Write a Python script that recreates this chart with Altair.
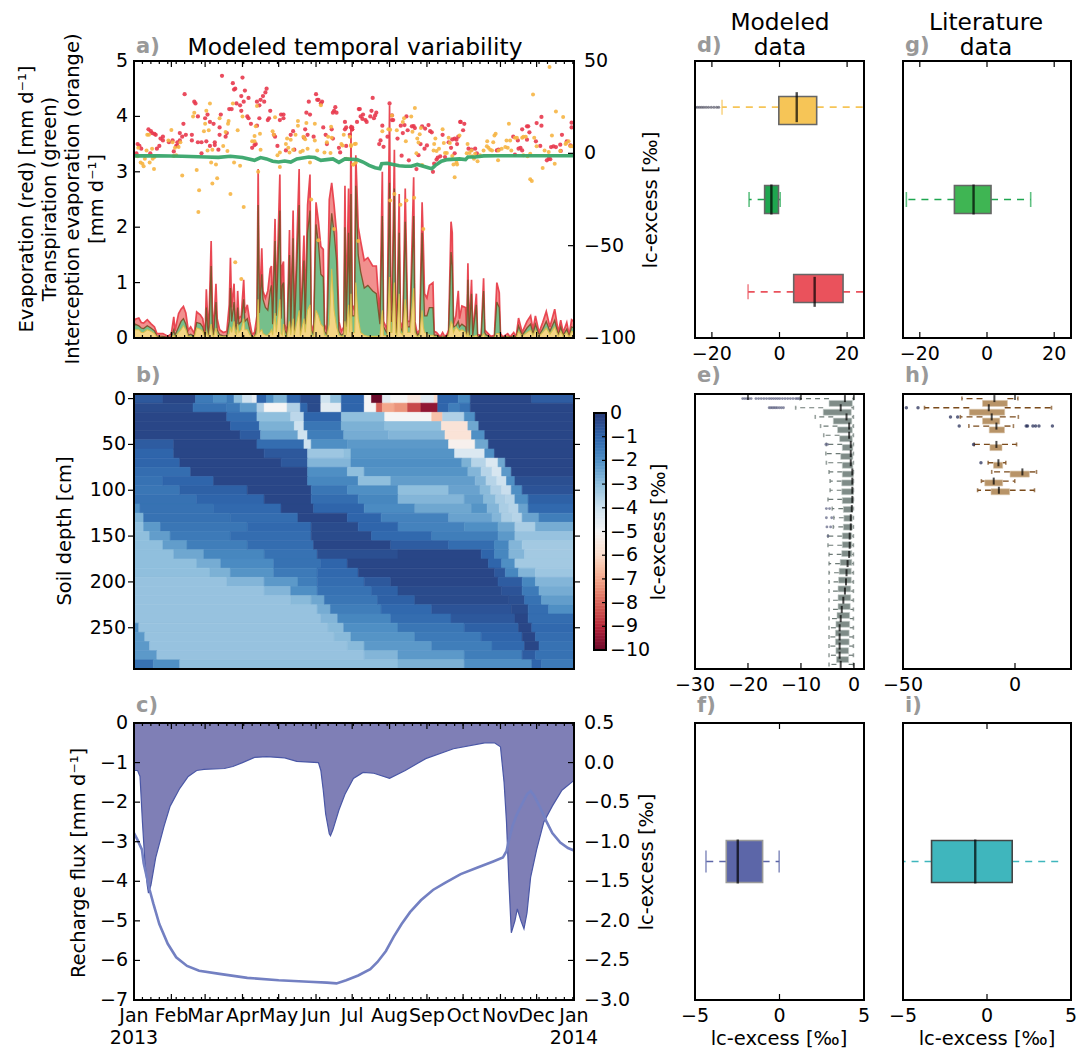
import altair as alt
import pandas as pd

FONT = "DejaVu Sans"
TS = 19

MONTH_DAYS = [0, 31, 59, 90, 120, 151, 181, 212, 243, 273, 304, 334, 365]
MONTH_LABELS = ["Jan", "Feb", "Mar", "Apr", "May", "Jun", "Jul", "Aug", "Sep", "Oct", "Nov", "Dec", "Jan"]
YEAR_DAYS = [0, 365]
YEAR_LABELS = ["2013", "2014"]
WEEK_DAYS = list(range(7, 365, 7))

EV_DAY = [0,1,4,6,8,11,14,17,19,24,28,31,33,34,37,39,41,43,45,47,50,52,55,57,59,60,61,62,64,65,66,68,69,71,74,77,79,80,81,83,84,85,86,87,89,91,92,94,96,98,100,102,103,104,106,107,109,111,113,114,115,117,118,121,122,123,124,125,127,129,130,132,133,137,138,141,142,144,146,147,149,151,153,155,157,158,160,162,164,166,168,170,172,174,175,176,178,179,180,181,183,184,186,188,191,194,198,201,204,206,207,210,212,213,214,216,217,218,220,221,223,225,227,229,232,233,235,237,239,240,241,243,245,248,249,251,254,256,258,260,261,263,264,265,267,269,270,272,275,276,277,278,280,281,284,285,288,290,291,292,296,299,301,303,304,306,310,312,315,317,319,322,326,329,331,333,336,339,342,345,349,352,354,356,359,361,363,365]
EV_RED = [.30,.34,.36,.28,.27,.33,.26,.20,.08,.08,.03,.08,.38,.13,.44,.52,.57,.45,.14,.20,.08,.47,.42,.35,.05,.88,.40,.12,1.75,.50,.12,.98,.35,.15,.10,.12,.60,1.45,.55,.98,.35,.25,.85,.35,.40,1.05,.45,.60,.30,.06,.10,.40,3.05,.50,1.62,.85,.72,.85,1.25,1.30,.35,2.15,.55,2.95,.55,1.30,1.38,.25,.10,1.95,.20,2.30,.20,3.05,.15,1.85,.40,2.40,2.95,.25,.10,2.45,2.10,1.65,1.60,.25,.12,2.50,2.80,2.40,1.90,.30,.12,.20,2.75,.40,2.70,.50,3.85,.60,.50,3.30,2.00,1.75,1.40,1.45,1.30,1.30,.35,3.00,.30,.15,4.20,.60,.50,3.40,.50,.15,2.60,.30,.15,2.70,.30,.30,2.90,.30,.08,.15,2.45,1.70,.80,.72,.95,1.00,.12,.10,.02,.10,.02,.08,.15,2.10,1.90,.25,.40,.85,.35,.58,.55,.10,1.35,.10,1.05,.08,.80,.06,.05,1.08,.15,.12,.03,.05,1.00,.82,.08,.02,.08,.02,.10,.02,.36,.10,.30,.40,.15,.40,.10,.28,.48,.20,.52,.10,.32,.10,.28,.05,.33,.30]
EV_GREEN = [.20,.25,.22,.18,.17,.22,.18,.13,.03,.03,.01,.02,.15,.05,.20,.30,.35,.25,.05,.07,.03,.28,.26,.20,.01,.55,.20,.04,1.30,.20,.05,.65,.15,.06,.04,.04,.30,.90,.30,.65,.25,.15,.55,.25,.30,.70,.30,.35,.15,.02,.03,.20,2.40,.45,1.15,.70,.55,.50,.85,.95,.25,1.75,.40,2.30,.35,.95,1.00,.15,.05,1.50,.12,1.80,.12,2.40,.08,1.40,.25,1.90,2.30,.15,.06,2.05,1.70,1.15,1.10,.12,.06,1.60,2.25,1.90,1.40,.12,.05,.08,2.00,.20,1.90,.35,2.60,.40,.40,2.75,1.50,1.20,.90,.95,.85,.80,.25,2.20,.20,.08,2.80,.30,.30,2.70,.30,.08,1.90,.20,.10,2.10,.20,.20,2.20,.20,.04,.10,1.90,1.00,.40,.40,.55,.55,.05,.05,.01,.03,.01,.03,.10,1.55,1.30,.20,.22,.30,.20,.25,.20,.05,1.05,.05,.80,.04,.60,.03,.02,.85,.10,.06,.01,.02,.65,.55,.03,.01,.03,.01,.04,.01,.22,.05,.18,.25,.08,.25,.05,.16,.30,.12,.32,.05,.20,.05,.16,.02,.20,.18]
EV_ORANGE = [.12,.15,.15,.10,.10,.15,.12,.08,.02,.01,.00,.01,.05,.02,.10,.15,.22,.15,.02,.03,.01,.18,.16,.12,.00,.12,.06,.02,.25,.06,.02,.18,.06,.03,.02,.02,.08,.20,.10,.30,.10,.06,.25,.10,.15,.35,.15,.15,.06,.01,.02,.08,.70,.10,.15,.08,.05,.05,.10,.15,.05,.45,.10,.70,.08,.05,.25,.05,.02,.30,.05,.35,.05,.50,.04,.35,.10,.50,.60,.06,.03,.50,.40,.25,.20,.05,.03,.25,1.25,.50,.20,.05,.03,.03,.30,.05,.60,.10,.80,.08,.10,1.00,.35,.10,.05,.03,.03,.03,.03,.50,.05,.03,1.10,.10,.10,1.00,.10,.04,.80,.10,.05,.70,.10,.10,.90,.10,.02,.05,.50,.20,.10,.08,.05,.05,.02,.02,.00,.02,.00,.02,.05,.30,.25,.10,.20,.15,.12,.15,.10,.02,.10,.02,.05,.02,.05,.01,.01,.08,.03,.02,.00,.01,.08,.08,.02,.00,.02,.00,.02,.00,.12,.03,.10,.14,.05,.14,.03,.10,.18,.07,.20,.03,.12,.03,.10,.01,.12,.10]

RED_DAY = [73,90,82,84,83,92,110,109,107,105,42,50,51,89,95,91,85,88,79,81,89,102,108,104,151,153,152,156,155,145,167,166,165,168,143,146,113,122,124,121,124,111,112,72,61,59,63,53,41,71,66,94,95,97,104,102,12,14,15,17,18,24,22,24,38,40,43,48,48,38,36,35,53,56,60,56,71,76,77,67,67,70,63,3,4.5,6,2,13.5,19,21,29,32,36,33,98,100,101,116,117,119,126,130,132,133,142,144,149,141,157,164,165,159,160,170,171,175,176,175,176,179,181,181,198,186.5,187.3,190,188,189.5,192,193,185,196,197,200,201,199,226,180,181,212,214,215,214,206,204.5,203.4,207,210.3,218.6,221.3,224.4,223,227,230.5,233,232,222,228,234.3,236,237.7,241,243,239,241.5,244.3,245.7,247,248,249,251,252,254,256,258,263,261,264,266,267.5,269,270.6,271,274,273,268,266,277.5,280,283,284.4,301,302.4,319,320.6,322,316,314.6,318.4,322,326,327,328,326,333.4,337,334,338,338,344,345.3,342.5,346,348,350,353.6,354,355,359,362,363,363]
RED_VAL = [42,41,38,35,34.5,34,35,33,31,29,32,28,27,31,30,28,27,26,24,24,23,28,28,26,32,29,29,28,27,28,25,23,22,22,22,21,23,21,21,18,19,18,19,21,21,19,17,20,16,14,16,20,19,16,19,15,13,12,11,10.5,10,9,8,7,11,9,10,10,7,7,6,4,6,6,6.5,0,10,9,11,6,4.5,2,4,5,4,2.5,0,0,2.5,4,6,7,4,1,3,4.5,5,10,9,4,1.6,10,12,2,13,10,9,8.5,14,13,8,10,5,3,0.5,17,14,13,4,10,13,14,30,24,24,21,20,18.6,18,17,17,20,23,20.5,22,19,20,14,13,27,18,18,20.5,15,7,5,3.5,9,8,15,15.3,11,12.5,14.6,13.7,14.8,-1.3,-3.8,-8.5,-1,5,2.5,4.3,14.6,13.4,15.3,12,11.4,-10,-5.6,-3.4,-2.3,-1.6,10,-2,3,6,7.5,8,7.4,9,17,17,16,12.5,5,0,2.5,2,2.5,0,1.6,2,2.5,3,1.6,-0.7,9,7,13,14.6,14.6,11.4,7.4,6.5,4,16.4,19.7,15,-3,-3.2,-3.8,3.4,3.8,3.4,4.7,1.3,10,6.5,4.3,16.6,14]

ORANGE_DAY = [31,63,60,50,49,82,78.5,78,71,59,62,58,86,76,74,77.5,65,61,11,12.4,32,28.5,38.5,37,34,35,33,15,10.4,3.5,3,17,15.5,13,9,7,5.5,8,16.6,52,40,54,65,69,80,64,68,83,88,103,121,90,101,104.5,100,98,100,105,102,117,115,116,119,121,127,126,130,128,129,132,136,136,134,138,140,143,150,140.5,142,150,144,146,152,158,155,163.5,161,164,160,163,172,174,173,176,178,180,182,180,179,183,184,184,182,214,233,230,224,223,218,212.5,211,206,231,225.5,237,238,235,236,234.3,239,248.5,250,249,251,253,256,257,261,262,258,259.5,264,265,267.5,268,270,266,276.7,276,278.3,280.5,282,285,293,298,299,300,309,312,313,310,311,316,317.6,322,323,325,326.5,332,334,340.6,344,346.7,350,356,331,344.7,339,328.7,330,349,302,360.5,362,363.5,358,358.6,353.6,323,328.7,302.4,290,292.7,294,295.5,297,305,308,287,283,280,91,53.4,84,89,147,153,166,186,212.5,216,221,226,232.4,240]
ORANGE_VAL = [12.6,27,23,22,20,27,17.5,16,19,16,12.5,12,12.5,11.5,4,1.3,2,1.6,10,10,6,7,6,3.4,3,-1,-1.4,2.5,1.6,3,-1.6,-2,-3,-5,-3,-5.6,-5,-7,-8.5,-9,-12,-20,-16.4,-13.5,-22,-5,-6,-5,-6.7,-10,-7.4,20,14.6,10.6,9.4,6.5,6.5,2,25.6,19.5,12,10,-1,0.4,8,5,7.4,3,0.4,2,17.5,15,10,0.7,1.4,16.4,16,9,7.6,7,2.5,-5,1.6,0.5,26,14.4,9,8.5,6,0.2,5,10,4.3,-3,-3.2,4.5,-6,4,9,5,5.2,-5,-6,20.5,24.5,20,19,17,12.5,12.8,13,12,11.7,6.5,10.3,13.7,8,5.8,0,-6.3,1.6,8,5,1.3,2.5,13,5.6,8.5,5.6,0.2,0.2,-1.4,-6,-5,-6,9.7,-13,5,0,0.2,-1.6,-3,-4.3,6.5,6,9.7,10.6,7,7,1.6,3,16,8.5,8.5,8.5,9,9,-1.6,8.5,3.8,1.6,0.7,9.7,22.7,19.7,31.8,46.7,-8,-14,-15,-5.6,-3.8,6.5,3.8,3.8,5,5.6,1.3,-1,-0.2,1.6,1.6,3.8,3,2,1.6,2.5,3.4,-1,-0.2,1.6,-29,-31.8,-59,-68,-25,-47,-41,-47.5,-25.5,-22,-27.8,-25.5,-24,-41]

LINE_DAY = [0,20,40,60,70,80,90,100,105,110,115,120,125,130,135,145,150,155,160,165,170,175,180,185,190,195,200,204,205.5,210,215,220,225,230,235,240,247,250,255,260,270,275,277,283,290,300,365]
LINE_VAL = [-1.4,-1.3,-1.6,-2,-2.2,-1.6,-2.3,-3.8,-2.3,-3,-4.3,-4.7,-4.2,-4.7,-3,-2,-2.3,-3.8,-3.4,-3,-4.9,-3,-3.2,-3.4,-4.7,-6.5,-7.8,-8.3,-5.6,-5.4,-6.1,-6.7,-7,-7,-6,-7,-8.3,-6.5,-4.3,-3.4,-3,-3.4,-2,-2,-1.4,-1.3,-1.3]

DEPTHS = list(range(0, 300, 10))
HEAT_RUNS = [
 [[24,-.7],[51,-.3],[66,-1.5],[77,-2],[83,-1.5],[90,-3],[98,-4],[102,-4.6],[110,-1],[116,-2],[127,-2.7],[138,-1],[155,-.4],[163,-4],[172,-3],[191,-1],[197,-5],[206,-10],[213,-4.5],[227,-5],[238,-5.5],[249,-4.5],[252,-6],[269,-1],[279,-1.8],[330,-.3],[365,-.8]],
 [[49,-.4],[77,-1.3],[88,-1.5],[102,-2.2],[108,-3.5],[127,-5],[138,-3.5],[144,-1],[155,-.4],[172,-4.5],[191,-1],[201,-5],[206,-8],[216,-7],[227,-7.3],[238,-8.5],[252,-9.5],[261,-1],[270,-1.6],[279,-1.3],[365,-.3]],
 [[77,-.3],[102,-1.2],[130,-3],[141,-3.7],[172,-1],[208,-3],[247,-5],[256,-6.5],[274,-3.5],[283,-2],[365,-.3]],
 [[80,-.3],[104,-1],[133,-2.7],[141,-4],[172,-1.4],[208,-2.7],[255,-3],[277,-5.7],[286,-2.5],[365,-.3]],
 [[88,-.3],[105,-.8],[136,-2.4],[144,-4],[174,-1.6],[211,-2.6],[258,-2.8],[280,-5.7],[291,-2],[365,-.3]],
 [[33,-.8],[102,-.3],[141,-1.2],[147,-4],[177,-2],[261,-2.2],[283,-5.2],[294,-2.5],[365,-.3]],
 [[33,-1],[108,-.3],[144,-.7],[174,-3.2],[180,-3],[266,-2.1],[291,-4.3],[299,-2],[365,-.3]],
 [[38,-1],[122,-.3],[144,-.7],[180,-2.8],[272,-2],[280,-2.7],[292,-3.6],[302,-4.3],[308,-2.5],[365,-.3]],
 [[47,-1.2],[144,-.3],[177,-2],[191,-3],[277,-2.1],[288,-2.8],[297,-3.6],[305,-4.2],[313,-2.2],[365,-.3]],
 [[24,-1.3],[66,-1],[144,-.3],[186,-1.8],[213,-3],[283,-2.3],[292,-2.8],[301,-3.6],[309,-4],[316,-2],[365,-.5]],
 [[38,-1.4],[94,-.9],[147,-.3],[177,-1.4],[219,-2],[261,-3],[287,-2.4],[296,-2.9],[305,-3.5],[313,-3.9],[322,-2],[365,-.6]],
 [[52,-1.3],[108,-1],[147,-.3],[186,-1.2],[219,-1.8],[274,-2.8],[290,-2.3],[300,-2.9],[308,-3.4],[316,-3.6],[327,-2],[365,-.9]],
 [[5,-2],[66,-1.3],[122,-1.1],[149,-.3],[191,-1],[233,-1.9],[280,-2.5],[293,-2.1],[303,-2.8],[311,-3.4],[319,-3.6],[327,-2.4],[365,-1.1]],
 [[8,-2.7],[80,-1.3],[136,-1.2],[177,-.3],[205,-1],[261,-1.7],[297,-2.4],[305,-2.8],[314,-3.4],[322,-3.6],[336,-2.4],[365,-1.6]],
 [[8,-3],[22,-2.2],[94,-1.4],[147,-1.1],[186,-.4],[219,-1],[274,-1.7],[302,-2],[316,-2.5],[333,-3.4],[365,-2.6]],
 [[13,-3],[30,-2.3],[80,-1.5],[147,-1.2],[197,-.4],[247,-1.1],[302,-1.6],[316,-2.2],[365,-3.1]],
 [[24,-3],[44,-2.3],[94,-1.6],[149,-1.2],[213,-.3],[261,-.8],[299,-1.2],[311,-1.8],[322,-2.8],[365,-3.3]],
 [[33,-3],[58,-2.5],[108,-1.8],[152,-1.3],[219,-.5],[288,-.3],[299,-1],[311,-1.8],[324,-2.8],[365,-3.3]],
 [[52,-3],[72,-2.6],[116,-1.9],[155,-1.3],[177,-1],[294,-.3],[305,-1],[316,-2],[365,-3.3]],
 [[63,-3],[80,-2.7],[116,-2.1],[152,-1.5],[186,-1.1],[299,-.3],[308,-.7],[319,-1.8],[333,-2.8],[365,-3.2]],
 [[77,-3.1],[108,-2.8],[136,-2.2],[152,-1.6],[191,-1.2],[213,-.7],[302,-.3],[322,-.8],[333,-1.8],[365,-2.8]],
 [[108,-3.1],[130,-2.8],[152,-2],[197,-1.3],[219,-.9],[305,-.4],[322,-.6],[336,-1.5],[365,-2.6]],
 [[130,-3.1],[147,-2.9],[158,-2.5],[202,-1.4],[233,-.9],[311,-.4],[324,-.5],[338,-1.3],[365,-2.3]],
 [[152,-3.1],[163,-2.6],[205,-1.6],[247,-1.1],[313,-.6],[327,-.4],[344,-1.2],[365,-2]],
 [[155,-3.1],[169,-2.8],[213,-1.8],[263,-1.2],[316,-.7],[327,-.3],[365,-1.2]],
 [[4,-2],[161,-3.1],[174,-2.9],[219,-2],[274,-1.4],[319,-.9],[330,-.3],[365,-1.1]],
 [[9,-2.2],[166,-3.1],[180,-2.9],[233,-2.1],[288,-1.5],[322,-1],[333,-.3],[365,-1.2]],
 [[13,-2.2],[177,-3.1],[191,-2.9],[247,-2.2],[297,-1.6],[324,-1.1],[336,-.3],[365,-1.3]],
 [[19,-2.2],[191,-3.1],[219,-2.8],[274,-2.2],[322,-1.6],[333,-.8],[365,-1.3]],
 [[16,-1.3],[38,-2],[219,-3],[274,-2.7],[330,-2],[338,-1],[365,-1.5]],
]
HEAT_DOMAIN = [-10,-9,-8,-7,-6,-5,-4,-3,-2,-1,0]
HEAT_COLORS = ["#6b0a2a","#b5263a","#d8645a","#f3a78c","#fbdccb","#f5f5f5","#cfe2ef","#90bfdd","#4f8fc4","#2f65ab","#263a78"]
CB_TICKS = [0,-1,-2,-3,-4,-5,-6,-7,-8,-9,-10]

FLUX_DAY = [0,3,5,7,9,11,12,14,18,25,30,38,45,52,58,75,82,90,100,110,125,135,153,155,157,159,162,163,165,170,175,182,190,199,212,225,242,265,291,299,304,307,309,311,313,316,318,321,323.5,326,329,334,340,347,355,365]
FLUX_VAL = [-1.2,-1.2,-1.35,-2.5,-3.5,-4.1,-4.3,-4.1,-3.4,-2.6,-2.1,-1.65,-1.35,-1.2,-1.17,-1.15,-1.1,-1,-.87,-.85,-.88,-.97,-1,-1.2,-1.7,-2.3,-2.8,-2.85,-2.7,-2.2,-1.8,-1.4,-1.25,-1.27,-1.4,-1.2,-.9,-.65,-.5,-.5,-.6,-1.5,-2.5,-4,-5.3,-5,-4.7,-5,-5.2,-4.8,-3.9,-3.2,-2.5,-2.1,-1.7,-1.45]
LC_DAY = [0,3,6.6,8,13,16,21,28,35,44,54,71,94,120,145,160,168,176,186,196,202,209,215.5,222,229,238,248,258,271,284.5,298,306,309,311,314,317.4,321,326,329,332,337,342,347,353.6,360,365]
LC_VAL = [-.89,-.98,-1.1,-1.27,-1.61,-1.78,-2.04,-2.29,-2.46,-2.57,-2.63,-2.67,-2.72,-2.75,-2.77,-2.78,-2.79,-2.75,-2.69,-2.61,-2.52,-2.38,-2.2,-2.04,-1.89,-1.74,-1.61,-1.52,-1.41,-1.33,-1.25,-1.2,-1.12,-.98,-.8,-.66,-.55,-.4,-.36,-.42,-.57,-.74,-.89,-1.01,-1.08,-1.11]

D_ROW = [1, 2, 3]
D_Q1 = [-0.2, -4.4, 4.2]
D_MED = [5.1, -2.4, 10.4]
D_Q3 = [11, -0.3, 18.8]
D_LO = [-17, -9, -9.3]
D_HI = [25, 0.2, 25]
D_COL = ["#f6c557", "#1ea64f", "#ea525c"]
D_FLIERS = [-24.8,-24.2,-23.6,-23,-22.4,-21.7,-21,-20.2,-19.4,-18.6,-18]
G_Q1, G_MED, G_Q3, G_LO, G_HI = [-9.7], [-4], [1.2], [-24], [13]
F_Q1, F_MED, F_Q3, F_LO, F_HI = [-3.15], [-2.47], [-1], [-4.35], [-0.02]
I_Q1, I_MED, I_Q3, I_LO, I_HI = [-3.3], [-0.7], [1.5], [-5], [4.4]

E_Q1 = [-4.7,-5.8,-3.9,-3.1,-2.7,-2.2,-2.5,-2.2,-2.2,-2.3,-2.3,-2.2,-2,-1.9,-2,-2.2,-2.2,-2.3,-2.6,-2.8,-2.9,-3,-3,-3,-3.2,-3.4,-3.5,-3.5,-3.4,-3.3]
E_MED = [-1.7,-2.5,-1.4,-.9,-.9,-.6,-.6,-.6,-.3,-.3,-.3,-.3,-.4,-.6,-.6,-.8,-.8,-.9,-1.2,-1.4,-1.5,-1.7,-2,-2.3,-2.5,-2.7,-2.7,-2.7,-2.7,-2.5]
E_Q3 = [-.3,-.5,-.4,-.3,-.3,-.2,-.2,-.2,-.1,-.1,-.1,-.1,-.2,-.3,-.3,-.4,-.4,-.4,-.4,-.5,-.5,-.6,-.6,-.7,-.8,-.8,-.9,-.9,-1,-1]
E_LO = [-10.2,-11,-7.3,-6.3,-5.7,-5.2,-5.3,-5.2,-4.7,-4.5,-4.5,-4.9,-4.1,-3.8,-3.9,-4.9,-4.9,-4.7,-4.7,-4.7,-4.7,-4.7,-4.7,-4.7,-4.7,-4.7,-4.7,-4.7,-4.7,-4.7]
E_HI = [-.1]*30
E_FL_ROW = [0]*24 + [1]*9 + [5,5,12,12,13,13,14,14,15]
E_FL_VAL = [-21,-20.6,-20.2,-19.8,-19.4,-18.5,-18,-17.5,-17,-16.5,-16,-15.6,-15.2,-14.8,-14.4,-14,-13.5,-13,-12.5,-12,-11.5,-11,-10.7,-10.4,-16,-15.7,-15.4,-15.1,-14.8,-14.5,-14.1,-13.7,-13.3,-5.3,-5,-5.2,-4.6,-5.2,-4.2,-5.1,-4.4,-4.9]

H_ROW = [0,1,2,3,5,7,8,9,10]
H_Q1 = [-14.5,-20.4,-14.5,-11.5,-11.2,-9.6,-2.2,-13.5,-10.7]
H_MED = [-9.2,-11.7,-10.4,-8.3,-8.3,-7.4,3.3,-9.5,-7.2]
H_Q3 = [-3.4,-4.6,-6.8,-4.7,-5.8,-5.5,6.4,-5.5,-2.4]
H_LO = [-23.7,-40.4,-24.4,-20.6,-18.2,-12,-10.4,-15,-16.7]
H_HI = [1.3,16.3,1.5,-.7,.7,-4.1,9.6,-.1,8.7]
H_FL_ROW = [1,1,2,2,3,3,3,3,3,3,3,5,7]
H_FL_VAL = [-48.5,-43.3,-28.8,-25.6,-24.9,5,5.6,8,9.2,10.7,16.7,-18.5,-15.2]

# ---- layout: page pixels of the panels; M is the page margin
M = 8
XA0, XA1 = 134 - M, 574 - M
XB0, XB1 = 695 - M, 864 - M
XC0, XC1 = 903 - M, 1071 - M
Y10, Y11 = 61 - M, 338 - M
Y20, Y21 = 394 - M, 669 - M
Y30, Y31 = 723 - M, 1000 - M

ONE = pd.DataFrame({"k": [0]})
BLACK = "#000000"
GRAY = "#999999"
L = []


def sc(domain, rng):
    return alt.Scale(domain=domain, range=rng, nice=False, zero=False, clamp=False)


def Xq(f, s):
    return alt.X(f + ":Q", scale=s, axis=None)


def Yq(f, s):
    return alt.Y(f + ":Q", scale=s, axis=None)


def fmt(v):
    s = str(v)
    return s.replace("-", "\u2212")


def txt(s, x, y, size=TS, angle=0, color=BLACK, weight="normal", align="center"):
    L.append(alt.Chart(ONE).mark_text(text=s, fontSize=size, angle=angle, color=color, fontWeight=weight,
                                      align=align, baseline="middle", font=FONT).encode(
        x=alt.value(x - M), y=alt.value(y - M)))


def letter(s, x, y):
    txt(s, x, y, 21, color=GRAY, weight="bold", align="left")


def border(x0, x1, y0, y1):
    L.append(alt.Chart(ONE).mark_rect(fill=None, stroke=BLACK, strokeWidth=2).encode(
        x=alt.value(x0), x2=alt.value(x1), y=alt.value(y0), y2=alt.value(y1)))


def xticks(vals, s, y0, y1, size=6, width=1.2):
    d = pd.DataFrame({"v": vals})
    L.append(alt.Chart(d).mark_rule(color=BLACK, strokeWidth=width).encode(x=Xq("v", s), y=alt.value(y0), y2=alt.value(y0 + size)))
    L.append(alt.Chart(d).mark_rule(color=BLACK, strokeWidth=width).encode(x=Xq("v", s), y=alt.value(y1 - size), y2=alt.value(y1)))


def yticks(vals, s, x0, x1):
    d = pd.DataFrame({"v": vals})
    L.append(alt.Chart(d).mark_rule(color=BLACK, strokeWidth=1.2).encode(y=Yq("v", s), x=alt.value(x0), x2=alt.value(x1)))


def ylabels(vals, s, x, align, labels=None):
    d = pd.DataFrame({"v": vals, "t": labels if labels else [fmt(v) for v in vals]})
    L.append(alt.Chart(d).mark_text(fontSize=TS, font=FONT, color=BLACK, align=align, baseline="middle").encode(
        y=Yq("v", s), x=alt.value(x), text="t:N"))


def xlabels(vals, s, y):
    d = pd.DataFrame({"v": vals, "t": [fmt(v) for v in vals]})
    L.append(alt.Chart(d).mark_text(fontSize=TS, font=FONT, color=BLACK, baseline="middle").encode(
        x=Xq("v", s), y=alt.value(y), text="t:N"))


def boxes(df, xs, ys, hbox, hcap, hmed, stroke, sw, dash, dom, wwidth=1.6, med_w=2.4):
    fill = alt.Color("col:N", scale=None, legend=None)
    wcol = alt.Color("wc:N", scale=None, legend=None)
    w_mark = dict(strokeWidth=wwidth, strokeDash=dash)
    L.append(alt.Chart(df).mark_rule(**w_mark).encode(x=Xq("q1", xs), x2="lo:Q", y=Yq("y", ys), color=wcol))
    L.append(alt.Chart(df).mark_rule(**w_mark).encode(x=Xq("q3", xs), x2="hi:Q", y=Yq("y", ys), color=wcol))
    if hcap:
        for f in ("lo", "hi"):
            sub = df[(df[f] > dom[0]) & (df[f] < dom[1])]
            L.append(alt.Chart(sub).mark_tick(orient="vertical", size=hcap, thickness=1.6).encode(x=Xq(f, xs), y=Yq("y", ys), color=wcol))
    L.append(alt.Chart(df).mark_bar(size=hbox, orient="horizontal", stroke=stroke, strokeWidth=sw, opacity=1).encode(
        x=Xq("q1", xs), x2="q3:Q", y=Yq("y", ys), color=fill))
    L.append(alt.Chart(df).mark_tick(orient="vertical", size=hmed, thickness=med_w, color=BLACK).encode(x=Xq("med", xs), y=Yq("y", ys)))


def box_df(rows, q1, med, q3, lo, hi, col, wc=None):
    n = len(rows)
    col = col if isinstance(col, list) else [col] * n
    wc = col if wc is None else (wc if isinstance(wc, list) else [wc] * n)
    return pd.DataFrame({"y": rows, "q1": q1, "med": med, "q3": q3, "lo": lo, "hi": hi, "col": col, "wc": wc})


# ---------- a
xd = sc([0, 365], [XA0, XA1])
yev = sc([0, 5], [Y11, Y10])
yiso = sc([-100, 50], [Y11, Y10])
ev = pd.DataFrame({"d": EV_DAY, "r": EV_RED, "g": EV_GREEN, "o": EV_ORANGE})
for f, fill, op, line, lw, lop in [("r", "#f08a88", .95, "#e8404c", 1.7, .95),
                                   ("g", "#6fc28b", .95, "#7a4f26", 1.3, .9),
                                   ("o", "#fbd685", .95, "#d9bf4a", 1.1, .9)]:
    L.append(alt.Chart(ev).mark_area(color=fill, opacity=op).encode(x=Xq("d", xd), y=Yq(f, yev)))
    L.append(alt.Chart(ev).mark_line(color=line, strokeWidth=lw, opacity=lop).encode(x=Xq("d", xd), y=Yq(f, yev)))
L.append(alt.Chart(pd.DataFrame({"d": RED_DAY, "v": RED_VAL})).mark_circle(size=18, color="#e8394d", opacity=.9).encode(x=Xq("d", xd), y=Yq("v", yiso)))
L.append(alt.Chart(pd.DataFrame({"d": ORANGE_DAY, "v": ORANGE_VAL})).mark_circle(size=16, color="#f6b544", opacity=.9).encode(x=Xq("d", xd), y=Yq("v", yiso)))
L.append(alt.Chart(pd.DataFrame({"d": LINE_DAY, "v": LINE_VAL})).mark_line(color="#38a56a", strokeWidth=3.6, opacity=.95).encode(x=Xq("d", xd), y=Yq("v", yiso)))
xticks(MONTH_DAYS, xd, Y10, Y11, 6)
xticks(WEEK_DAYS, xd, Y10, Y11, 3)
yticks([1, 2, 3, 4], yev, XA0, XA0 + 6)
yticks([-50, 0], yiso, XA1 - 6, XA1)
border(XA0, XA1, Y10, Y11)
ylabels([0, 1, 2, 3, 4, 5], yev, XA0 - 6, "right")
ylabels([-100, -50, 0, 50], yiso, XA1 + 10, "left")
txt("Modeled temporal variability", 355, 48, 23.3)
letter("a)", 136, 47)
txt("Evaporation (red) [mm d\u207b\u00b9]", 27, 199, 19.5, 270)
txt("Transpiration (green)", 50, 199, 19.5, 270)
txt("Interception evaporation (orange)", 73, 199, 19.5, 270)
txt("[mm d\u207b\u00b9]", 97, 199, 19.5, 270)
txt("lc-excess [\u2030]", 651, 200, 19.5, 270)

# ---------- b
rows = []
for depth, runs in zip(DEPTHS, HEAT_RUNS):
    start = 0
    for end, val in runs:
        rows.append({"x0": start, "x1": end, "y0": depth - 5, "y1": depth + 5, "v": val})
        start = end
heat = pd.DataFrame(rows)
ydep = sc([-5, 295], [Y20, Y21])
csc = alt.Scale(domain=HEAT_DOMAIN, range=HEAT_COLORS)
L.append(alt.Chart(heat).mark_rect(strokeWidth=.6).encode(
    x=Xq("x0", xd), x2="x1:Q", y=Yq("y0", ydep), y2="y1:Q",
    color=alt.Color("v:Q", scale=csc, legend=None), stroke=alt.Color("v:Q", scale=csc, legend=None)))
DEPTH_TICKS = [0, 50, 100, 150, 200, 250]
yticks(DEPTH_TICKS, ydep, XA0 - 6, XA0)
yticks(DEPTH_TICKS, ydep, XA1, XA1 + 6)
border(XA0, XA1, Y20, Y21)
ylabels(DEPTH_TICKS, ydep, XA0 - 8, "right")
letter("b)", 136, 376)
txt("Soil depth [cm]", 65, 531, 19.5, 270)
# colour bar
ycb = sc([-10, 0], [650 - M, 413 - M])
cb_vals = [v / 8 for v in range(-80, 0)]
cb = pd.DataFrame({"y0": cb_vals, "y1": [v + .125 for v in cb_vals], "v": [v + .0625 for v in cb_vals]})
L.append(alt.Chart(cb).mark_rect(strokeWidth=.6).encode(
    x=alt.value(594 - M), x2=alt.value(606 - M), y=Yq("y0", ycb), y2="y1:Q",
    color=alt.Color("v:Q", scale=csc, legend=None), stroke=alt.Color("v:Q", scale=csc, legend=None)))
border(594 - M, 606 - M, 413 - M, 650 - M)
yticks(CB_TICKS, ycb, 602 - M, 606 - M)
ylabels(CB_TICKS, ycb, 610 - M, "left")
txt("lc-excess [\u2030]", 659, 532, 19.5, 270)

# ---------- c
yfl = sc([-7, 0], [Y31, Y30])
ylc = sc([-3, 0.5], [Y31, Y30])
fl = pd.DataFrame({"d": FLUX_DAY, "v": FLUX_VAL, "z": [0] * len(FLUX_DAY)})
L.append(alt.Chart(fl).mark_area(color="#7f7fb6", opacity=1).encode(x=Xq("d", xd), y=Yq("v", yfl), y2="z:Q"))
L.append(alt.Chart(fl).mark_line(color="#4a57a6", strokeWidth=1.2).encode(x=Xq("d", xd), y=Yq("v", yfl)))
L.append(alt.Chart(pd.DataFrame({"d": LC_DAY, "v": LC_VAL})).mark_line(color="#7380c2", strokeWidth=2.6).encode(x=Xq("d", xd), y=Yq("v", ylc)))
xticks(MONTH_DAYS, xd, Y30, Y31, 6)
xticks(WEEK_DAYS, xd, Y30, Y31, 3)
yticks([-1, -2, -3, -4, -5, -6], yfl, XA0, XA0 + 6)
yticks([0, -.5, -1, -1.5, -2, -2.5], ylc, XA1 - 6, XA1)
border(XA0, XA1, Y30, Y31)
ylabels([0, -1, -2, -3, -4, -5, -6, -7], yfl, XA0 - 6, "right")
ylabels([.5, 0, -.5, -1, -1.5, -2, -2.5, -3], ylc, XA1 + 10, "left",
        ["0.5", "0.0", "\u22120.5", "\u22121.0", "\u22121.5", "\u22122.0", "\u22122.5", "\u22123.0"])
lab = pd.DataFrame({"d": MONTH_DAYS, "t": MONTH_LABELS})
yr = pd.DataFrame({"d": YEAR_DAYS, "t": YEAR_LABELS})
L.append(alt.Chart(lab).mark_text(fontSize=TS, font=FONT, baseline="middle", color=BLACK).encode(x=Xq("d", xd), y=alt.value(Y31 + 16), text="t:N"))
L.append(alt.Chart(yr).mark_text(fontSize=TS, font=FONT, baseline="middle", color=BLACK).encode(x=Xq("d", xd), y=alt.value(Y31 + 38), text="t:N"))
letter("c)", 136, 706)
txt("Recharge flux [mm d\u207b\u00b9]", 79, 863, 19.5, 270)
txt("lc-excess [\u2030]", 647, 862, 19.5, 270)

# ---------- d / g
DASH = [7, 6]
x25d = sc([-25, 25], [XB0, XB1])
x25g = sc([-25, 25], [XC0, XC1])
y3 = sc([0.5, 3.5], [Y10, Y11])
boxes(box_df(D_ROW, D_Q1, D_MED, D_Q3, D_LO, D_HI, D_COL), x25d, y3, 28, 15, 30, "#666666", 1.6, DASH, [-25, 25])
L.append(alt.Chart(pd.DataFrame({"v": D_FLIERS, "y": [1] * len(D_FLIERS)})).mark_circle(size=9, color="#555566").encode(x=Xq("v", x25d), y=Yq("y", y3)))
boxes(box_df([2], G_Q1, G_MED, G_Q3, G_LO, G_HI, "#3fb553", "#1ea64f"), x25g, y3, 28, 15, 30, "#666666", 1.6, DASH, [-25, 25])
for s, x0, x1, ll, tt, xc in [(x25d, XB0, XB1, "d)", "Modeled", 780), (x25g, XC0, XC1, "g)", "Literature", 986)]:
    xticks([-20, 0, 20], s, Y10, Y11)
    border(x0, x1, Y10, Y11)
    xlabels([-20, 0, 20], s, Y11 + 16)
    letter(ll, x0 + M + 2, 46)
    txt(tt, xc, 23, 23.3)
    txt("data", xc, 48, 23.3)

# ---------- e / h
xe = sc([-30, 1.9], [XB0, XB1])
xh = sc([-50, 25], [XC0, XC1])
boxes(box_df(DEPTHS, E_Q1, E_MED, E_Q3, E_LO, E_HI, "#7f8c88", "#6d7a76"), xe, ydep, 6, 4, 7, "#c8d0cc", .6, [5, 4], [-30, 1.9], 1.2, 2)
L.append(alt.Chart(pd.DataFrame({"v": E_FL_VAL, "y": [DEPTHS[r] for r in E_FL_ROW]})).mark_circle(size=8, color="#5b5f80").encode(x=Xq("v", xe), y=Yq("y", ydep)))
boxes(box_df([DEPTHS[r] for r in H_ROW], H_Q1, H_MED, H_Q3, H_LO, H_HI, "#b89468", "#7a4a1a"), xh, ydep, 6, 4, 7, "#d8c4aa", .6, [6, 4], [-50, 25], 1.4, 2)
L.append(alt.Chart(pd.DataFrame({"v": H_FL_VAL, "y": [DEPTHS[r] for r in H_FL_ROW]})).mark_circle(size=12, color="#1b2450").encode(x=Xq("v", xh), y=Yq("y", ydep)))
xticks([-30, -20, -10, 0], xe, Y20, Y21)
xticks([0], xh, Y20, Y21)
border(XB0, XB1, Y20, Y21)
border(XC0, XC1, Y20, Y21)
xlabels([-30, -20, -10, 0], xe, Y21 + 16)
xlabels([-50, 0], xh, Y21 + 16)
letter("e)", 697, 376)
letter("h)", 905, 376)

# ---------- f / i
x5f = sc([-5, 5], [XB0, XB1])
x5i = sc([-5, 5], [XC0, XC1])
y1 = sc([0, 2], [Y31, Y30])
boxes(box_df([1], F_Q1, F_MED, F_Q3, F_LO, F_HI, "#5c66a8"), x5f, y1, 42, 22, 44, "#999999", 1.6, DASH, [-5, 5])
boxes(box_df([1], I_Q1, I_MED, I_Q3, I_LO, I_HI, "#3fb6bd"), x5i, y1, 42, 0, 44, "#444444", 1.6, DASH, [-5, 5])
for s, x0, x1, ll, xc in [(x5f, XB0, XB1, "f)", 779), (x5i, XC0, XC1, "i)", 987)]:
    xticks([0], s, Y30, Y31)
    border(x0, x1, Y30, Y31)
    xlabels([-5, 0, 5], s, Y31 + 16)
    letter(ll, x0 + M + 2, 706)
    txt("lc-excess [\u2030]", xc, 1039, 19.5)

chart = alt.layer(*L).resolve_scale(x="independent", y="independent", color="independent", stroke="independent").properties(
    width=1070, height=1043, padding=0, autosize=alt.AutoSizeParams(type="none")
).configure_view(stroke=None)
chart.save("out.html", embed_options={"renderer": "svg", "actions": False})
